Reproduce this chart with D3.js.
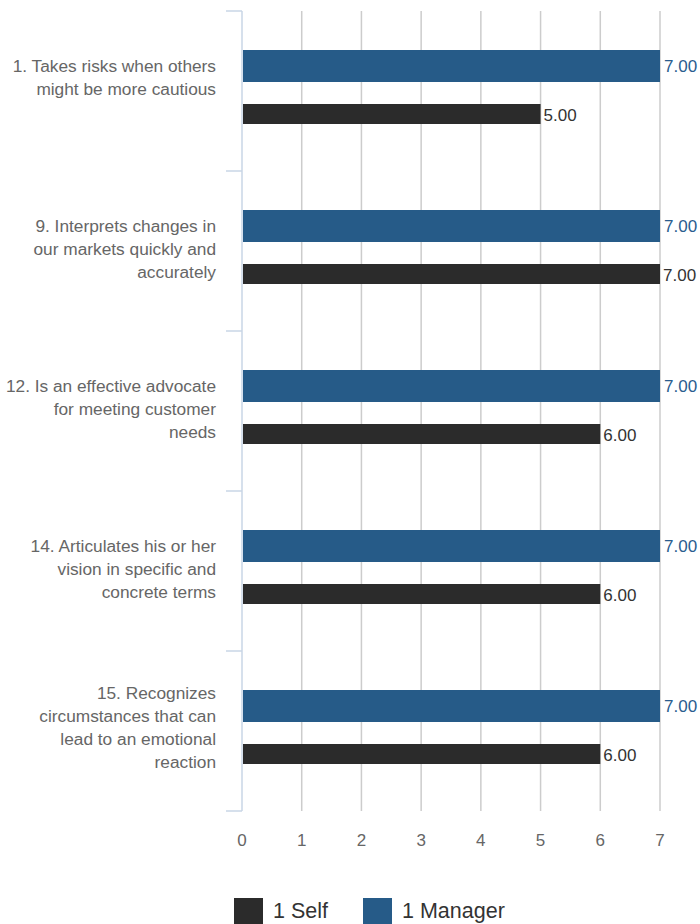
<!DOCTYPE html>
<html>
<head>
<meta charset="utf-8">
<script src="https://cdn.jsdelivr.net/npm/d3@7/dist/d3.min.js"></script>
<style>
  html, body { margin: 0; padding: 0; background: #fff; }
  svg { display: block; font-family: "Liberation Sans", Arial, sans-serif; }
</style>
</head>
<body>
<svg id="chart" width="700" height="924"></svg>
<script>
// Survey items (each label split into its display lines)
const categories = [
  ["1. Takes risks when others", "might be more cautious"],
  ["9. Interprets changes in", "our markets quickly and", "accurately"],
  ["12. Is an effective advocate", "for meeting customer", "needs"],
  ["14. Articulates his or her", "vision in specific and", "concrete terms"],
  ["15. Recognizes", "circumstances that can", "lead to an emotional", "reaction"]
];
const managerValues = [7, 7, 7, 7, 7];
const selfValues = [5, 7, 6, 6, 6];
const xTicks = [0, 1, 2, 3, 4, 5, 6, 7];
const seriesNames = ["1 Self", "1 Manager"];

const colors = { self: "#2b2b2b", manager: "#265b88" };

const svg = d3.select("#chart");
const x = d3.scaleLinear().domain([0, 7]).range([242, 660]);
const y = d3.scaleBand().domain(d3.range(categories.length)).range([11, 811]);

// vertical gridlines
svg.append("g")
  .selectAll("line")
  .data(xTicks.filter(d => d > 0))
  .join("line")
  .attr("x1", d => x(d)).attr("x2", d => x(d))
  .attr("y1", 11).attr("y2", 811)
  .attr("stroke", "#cccccc").attr("stroke-width", 1.5);

// category axis with outward ticks between items
const yAxisG = svg.append("g");
yAxisG.append("line")
  .attr("x1", x(0)).attr("x2", x(0))
  .attr("y1", 11).attr("y2", 811)
  .attr("stroke", "#c9d6e6").attr("stroke-width", 1.5);
yAxisG.selectAll("line.tick")
  .data(d3.range(categories.length + 1))
  .join("line")
  .attr("class", "tick")
  .attr("x1", x(0) - 16).attr("x2", x(0))
  .attr("y1", i => 11 + i * y.step()).attr("y2", i => 11 + i * y.step())
  .attr("stroke", "#c9d6e6").attr("stroke-width", 1.5);

// category labels
const lineH = 23;
categories.forEach((lines, i) => {
  const c = y(i) + y.bandwidth() / 2;
  const first = c - 25 - (lines.length > 3 ? 13 * (lines.length - 3) : 0);
  const t = svg.append("text")
    .attr("text-anchor", "end")
    .attr("fill", "#666666")
    .attr("font-size", 17.3);
  lines.forEach((ln, k) => {
    t.append("tspan")
      .attr("x", 216)
      .attr("y", first + k * lineH)
      .attr("dominant-baseline", "central")
      .text(ln);
  });
});

// manager bars
svg.append("g").selectAll("rect")
  .data(managerValues)
  .join("rect")
  .attr("x", x(0) + 1)
  .attr("y", (d, i) => y(i) + 39)
  .attr("width", d => x(d) - x(0) - 1)
  .attr("height", 32)
  .attr("fill", colors.manager);

// self bars
svg.append("g").selectAll("rect")
  .data(selfValues)
  .join("rect")
  .attr("x", x(0) + 1)
  .attr("y", (d, i) => y(i) + 93)
  .attr("width", d => x(d) - x(0) - 1)
  .attr("height", 20)
  .attr("fill", colors.self);

// value labels
svg.append("g").selectAll("text")
  .data(managerValues)
  .join("text")
  .attr("x", d => x(d) + 4)
  .attr("y", (d, i) => y(i) + 55)
  .attr("dominant-baseline", "central")
  .attr("font-size", 17)
  .attr("fill", "#2a5d8f")
  .text(d => d3.format(".2f")(d));

svg.append("g").selectAll("text")
  .data(selfValues)
  .join("text")
  .attr("x", d => x(d) + 3)
  .attr("y", (d, i) => y(i) + 104)
  .attr("dominant-baseline", "central")
  .attr("font-size", 17)
  .attr("fill", "#333333")
  .text(d => d3.format(".2f")(d));

// value axis labels
svg.append("g").selectAll("text")
  .data(xTicks)
  .join("text")
  .attr("x", d => x(d))
  .attr("y", 840)
  .attr("text-anchor", "middle")
  .attr("dominant-baseline", "central")
  .attr("font-size", 17)
  .attr("fill", "#666666")
  .text(d => d);

// legend
const legend = svg.append("g");
const legendItems = [
  { name: seriesNames[0], color: colors.self, x: 234 },
  { name: seriesNames[1], color: colors.manager, x: 363 }
];
legendItems.forEach(it => {
  legend.append("rect")
    .attr("x", it.x).attr("y", 898)
    .attr("width", 29).attr("height", 28)
    .attr("fill", it.color);
  legend.append("text")
    .attr("x", it.x + 39).attr("y", 911)
    .attr("dominant-baseline", "central")
    .attr("font-size", 21.5)
    .attr("fill", "#333333")
    .text(it.name);
});
</script>
</body>
</html>
